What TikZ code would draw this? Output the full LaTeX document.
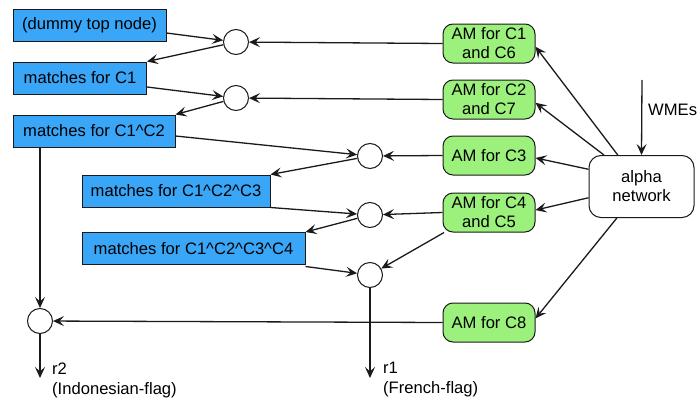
\documentclass[tikz,border=0pt]{standalone}
\usepackage{fontspec}
\setmainfont{Liberation Sans}
\usetikzlibrary{arrows.meta}
\definecolor{matchblue}{HTML}{3AA6F7}
\definecolor{amgreen}{HTML}{9CF07C}
\definecolor{edge}{HTML}{1A1A1A}
\tikzset{
  every node/.style={font=\fontsize{16.6}{19}\selectfont, text=black},
  tip/.style={-{Stealth[length=11pt,width=10pt,inset=4.5pt]}},
  conn/.style={draw=edge, line width=1.3pt},
  matchbox/.style={draw=edge, line width=1pt, fill=matchblue, rectangle,
    inner sep=2pt, minimum height=32pt},
  ambox/.style={draw=edge, line width=1pt, fill=amgreen, rectangle,
    rounded corners=10pt, align=center, inner sep=2pt,
    minimum width=92pt, minimum height=39pt},
  alphabox/.style={draw=edge, line width=1pt, fill=white, rectangle,
    rounded corners=12pt, align=center, minimum width=105pt, minimum height=62pt},
  joinnode/.style={draw=edge, line width=1pt, fill=white, circle,
    minimum size=25pt, inner sep=0pt},
  outlabel/.style={anchor=west, align=left, inner sep=0pt, font=\fontsize{16.6}{20}\selectfont}
}
\begin{document}
\begin{tikzpicture}[x=1pt, y=-1pt]
\useasboundingbox (0,0) rectangle (697,399);

% beta memories
\node[matchbox, minimum width=153pt] (b0) at (89.5,25.5) {(dummy top node)};
\node[matchbox, minimum width=133pt] (b1) at (80,78) {matches for C1};
\node[matchbox, minimum width=162pt] (b2) at (94,131) {matches for C1\^{}C2};
\node[matchbox, minimum width=188pt] (b3) at (176,191) {matches for C1\^{}C2\^{}C3};
\node[matchbox, minimum width=223pt] (b4) at (193.5,248.5) {matches for C1\^{}C2\^{}C3\^{}C4};

% join nodes
\node[joinnode] (c1) at (236,42) {};
\node[joinnode] (c2) at (236,98) {};
\node[joinnode] (c3) at (370,156) {};
\node[joinnode] (c4) at (370,215) {};
\node[joinnode] (c5) at (370,275) {};
\node[joinnode] (c6) at (40,321) {};

% alpha memories
\node[ambox] (am1) at (489,43.5) {AM for C1\\and C6};
\node[ambox] (am2) at (489,99.5) {AM for C2\\and C7};
\node[ambox] (am3) at (489,155.5) {AM for C3};
\node[ambox] (am4) at (489,212.5) {AM for C4\\and C5};
\node[ambox] (am8) at (489,322.5) {AM for C8};

% alpha network and its input
\node[alphabox] (alpha) at (641.5,186.5) {alpha\\network};
\coordinate (wmein) at (642,80);
\node[anchor=west, inner sep=0pt] (wmes) at (648,110) {WMEs};
\draw[conn, tip] (wmein) -- (alpha.north);

% alpha network to alpha memories
\draw[conn, tip] (alpha.127) -- (am1.-4);
\draw[conn, tip] (alpha.140) -- (am2.-4);
\draw[conn, tip] (alpha.162) -- (am3.-3);
\draw[conn, tip] (alpha.192) -- (am4.3);
\draw[conn, tip] (alpha.232) -- (am8.5);

% alpha memories to join nodes
\draw[conn, tip] (am1.west) -- (c1);
\draw[conn, tip] (am2.west) -- (c2);
\draw[conn, tip] (am3.west) -- (c3);
\draw[conn, tip] (am4.west) -- (c4);
\draw[conn, tip] (am4.204) -- (c5);
\draw[conn, tip] (am8.west) -- (c6);

% beta memories through join nodes
\draw[conn, tip] ([yshift=-7.5pt]b0.east) -- (c1);
\draw[conn, tip] (c1) -- (b1.north east);
\draw[conn, tip] ([yshift=-9pt]b1.east) -- (c2);
\draw[conn, tip] (c2) -- (b2.north east);
\draw[conn, tip] ([yshift=-5pt]b2.east) -- (c3);
\draw[conn, tip] (c3) -- (b3.north east);
\draw[conn, tip] (b3.south east) -- (c4);
\draw[conn, tip] (c4) -- (b4.north east);
\draw[conn, tip] ([yshift=-1.5pt]b4.south east) -- (c5);
\draw[conn, tip] (c6 |- b2.south) -- (c6);

% production nodes
\coordinate (r1end) at (370,378);
\coordinate (r2end) at (40,378);
\draw[conn, tip] (c5) -- (r1end);
\draw[conn, tip] (c6) -- (r2end);
\node[outlabel] (r1) at (383,380) {r1\\(French-flag)};
\node[outlabel] (r2) at (52,380) {r2\\(Indonesian-flag)};
\end{tikzpicture}
\end{document}
